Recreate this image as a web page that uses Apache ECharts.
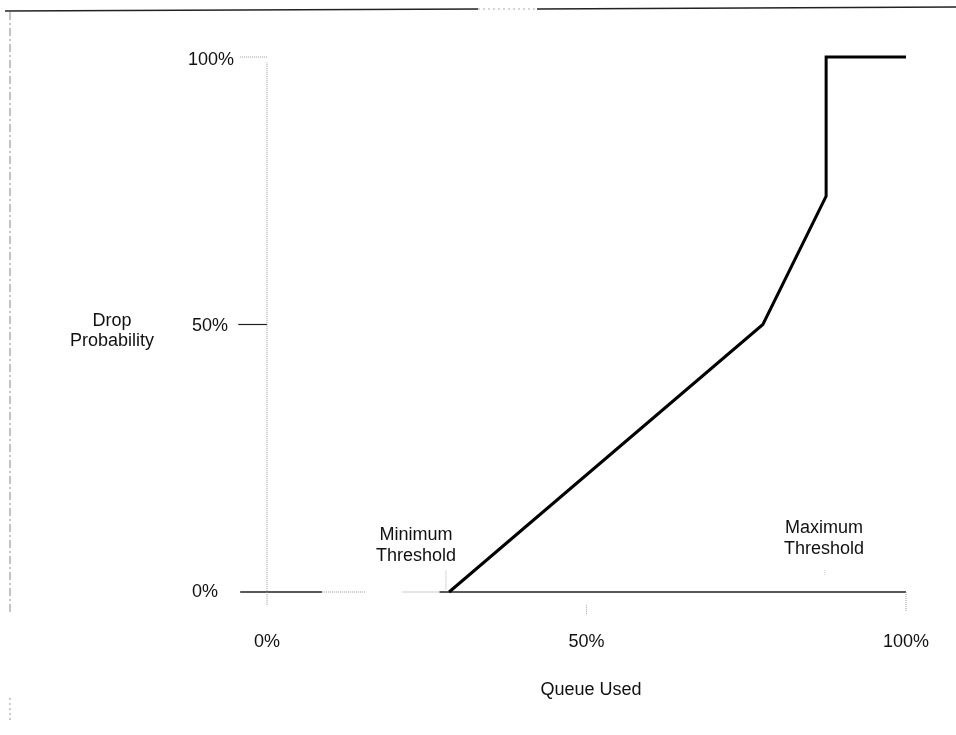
<!DOCTYPE html>
<html>
<head>
<meta charset="utf-8">
<script src="https://cdn.jsdelivr.net/npm/echarts@6/dist/echarts.min.js"></script>
<style>
html,body{margin:0;padding:0;background:#fff;}
#main{width:956px;height:735px;}
</style>
</head>
<body>
<div id="main"></div>
<script>
// ---- data ----
var xTicks = [0, 50, 100];
var yTicks = [0, 50, 100];
var dropCurve = [[28.5, 0], [77.6, 50], [87.5, 74], [87.5, 100], [100, 100]];
var xAxisLineSolidA = [[-4.2, 0], [8.6, 0]];
var xAxisLineFaintA = [[8.6, 0], [15.5, 0]];
var xAxisLineFaintB = [[21.2, 0], [27, 0]];
var xAxisLineSolidB = [[27, 0], [100, 0]];
var yAxisLine = [[0, -2.4], [0, 99]];
var yTick50 = [[-4.5, 50], [0, 50]];
var yTick100 = [[-4.2, 100], [0, 100]];
var xTick50 = [[50, -2.4], [50, -4.3]];
var xTick100 = [[100, 0], [100, -3.7]];
var minMark = [[28, 0.5], [28, 4]];
var maxMark = [[87.3, 3.2], [87.3, 4]];
var labelMin = ['Minimum', 'Threshold'];
var labelMax = ['Maximum', 'Threshold'];
var yTitle = ['Drop', 'Probability'];
var xTitle = 'Queue Used';

var FONT = '"Liberation Sans", Arial, sans-serif';
var chart = echarts.init(document.getElementById('main'));

function seg(data, color, width, type) {
  return {
    type: 'line', data: data, symbol: 'none', clip: false, silent: true,
    lineStyle: { color: color, width: width, type: type || 'solid' },
    z: 1
  };
}
function isTick(v, list) { return list.indexOf(v) >= 0; }

// axes start at -5 so the scanned axis stubs left of / below the origin fit
var option = {
  backgroundColor: '#fff',
  animation: false,
  grid: { left: 235.05, top: 57, width: 670.95, height: 561.75 },
  xAxis: {
    type: 'value', min: -5, max: 100, interval: 5,
    axisLine: { show: false }, axisTick: { show: false }, splitLine: { show: false },
    axisLabel: {
      margin: 14, color: '#111', fontFamily: FONT, fontSize: 18, showMinLabel: true, showMaxLabel: true,
      formatter: function (v) { return isTick(v, xTicks) ? v + '%' : ''; }
    }
  },
  yAxis: {
    type: 'value', min: -5, max: 100, interval: 5,
    axisLine: { show: false }, axisTick: { show: false }, splitLine: { show: false },
    axisLabel: {
      margin: 1, color: '#111', fontFamily: FONT, fontSize: 18,
      formatter: function (v) {
        if (!isTick(v, yTicks)) return '';
        if (v === 0) return '{a|0%}';
        if (v === 50) return '{b|50%}';
        return '{c|100%}';
      },
      rich: {
        a: { padding: [0, 16, 0, 0], fontFamily: FONT, fontSize: 18, color: '#111' },
        b: { padding: [4, 6, 0, 0], fontFamily: FONT, fontSize: 18, color: '#111' },
        c: { padding: [6, 0, 0, 0], fontFamily: FONT, fontSize: 18, color: '#111' }
      }
    }
  },
  series: [
    seg(xAxisLineSolidA, '#222', 1.5),
    seg(xAxisLineFaintA, '#999', 1, 'dotted'),
    seg(xAxisLineFaintB, '#999', 1, 'dotted'),
    seg(xAxisLineSolidB, '#222', 1.5),
    seg(yAxisLine, '#999', 1, 'dotted'),
    seg(yTick50, '#222', 1.2),
    seg(yTick100, '#999', 1, 'dotted'),
    seg(xTick50, '#aaa', 1, 'dotted'),
    seg(xTick100, '#999', 1, 'dotted'),
    seg(minMark, '#aaa', 1, 'dotted'),
    seg(maxMark, '#bbb', 1, 'dotted'),
    {
      type: 'line', data: dropCurve, symbol: 'none', clip: false, z: 5,
      lineStyle: { color: '#000', width: 3, join: 'miter' }
    }
  ],
  graphic: [
    { type: 'text', x: 112, y: 331, style: { text: yTitle.join('\n'), font: '18px ' + FONT, fill: '#111', align: 'center', verticalAlign: 'middle', lineHeight: 20 } },
    { type: 'text', x: 591, y: 690, style: { text: xTitle, font: '18px ' + FONT, fill: '#111', align: 'center', verticalAlign: 'middle' } },
    { type: 'text', x: 416, y: 546, style: { text: labelMin.join('\n'), font: '18px ' + FONT, fill: '#111', align: 'center', verticalAlign: 'middle', lineHeight: 21 } },
    { type: 'text', x: 824, y: 539, style: { text: labelMax.join('\n'), font: '18px ' + FONT, fill: '#111', align: 'center', verticalAlign: 'middle', lineHeight: 21 } },
    // scanned page frame
    { type: 'line', shape: { x1: 5, y1: 11, x2: 478, y2: 9 }, style: { stroke: '#222', lineWidth: 1.5 } },
    { type: 'line', shape: { x1: 478, y1: 9, x2: 537, y2: 9 }, style: { stroke: '#aaa', lineWidth: 1, lineDash: [2, 3] } },
    { type: 'line', shape: { x1: 537, y1: 9, x2: 956, y2: 7 }, style: { stroke: '#222', lineWidth: 1.5 } },
    { type: 'line', shape: { x1: 10, y1: 12, x2: 10, y2: 612 }, style: { stroke: '#888', lineWidth: 1, lineDash: [8, 3, 2, 3] } },
    { type: 'line', shape: { x1: 10, y1: 698, x2: 10, y2: 722 }, style: { stroke: '#999', lineWidth: 1, lineDash: [2, 3] } }
  ]
};
chart.setOption(option);
</script>
</body>
</html>
